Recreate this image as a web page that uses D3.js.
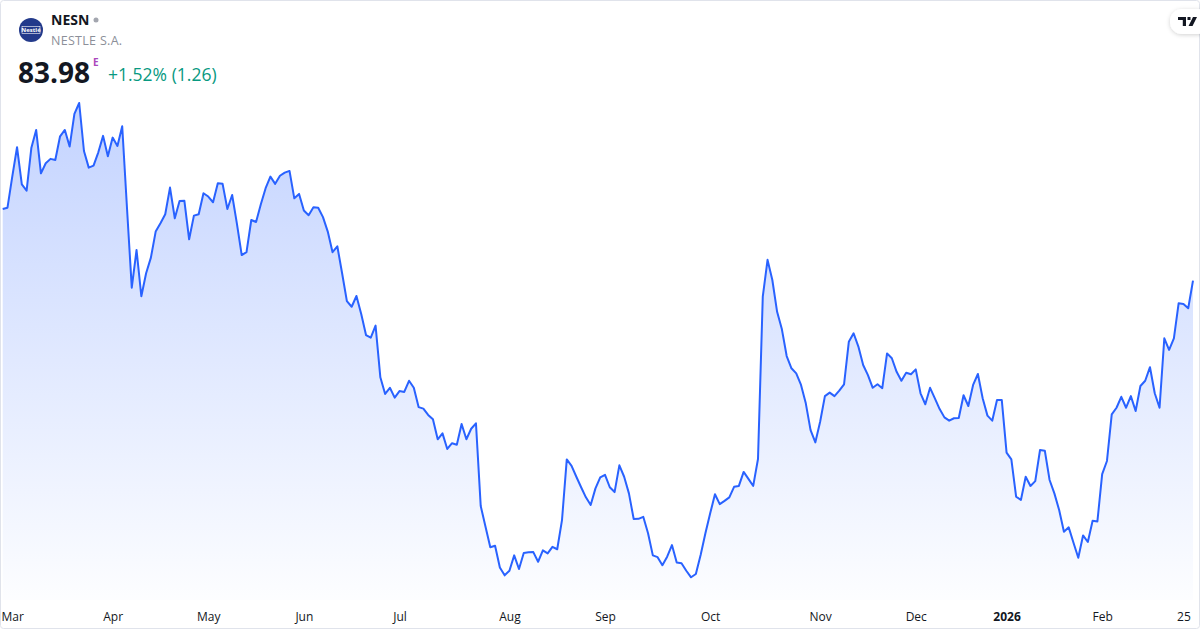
<!DOCTYPE html>
<html>
<head>
<meta charset="utf-8">
<script src="https://cdn.jsdelivr.net/npm/d3@7"></script>
<style>
  html, body { margin: 0; padding: 0; background: #fff; }
  svg { display: block; font-family: "Open Sans", Roboto, sans-serif; }
</style>
</head>
<body>
<div id="chart"></div>
<script>
// NESN daily close, 27 Feb 2025 .. 27 Feb 2026
const closes = [
  87.25, 87.31, 88.73, 90.07, 88.38, 88.09, 90.05, 90.86, 88.88, 89.34,
  89.54, 89.49, 90.57, 90.86, 90.10, 91.59, 92.09, 89.90, 89.14, 89.23,
  89.84, 90.59, 89.66, 90.51, 90.13, 91.03, 87.30, 83.66, 85.38, 83.27,
  84.32, 85.03, 86.22, 86.60, 87.01, 88.23, 86.83, 87.62, 87.63, 85.87,
  86.95, 87.01, 87.97, 87.82, 87.56, 88.43, 88.40, 87.25, 87.89, 86.57,
  85.15, 85.28, 86.75, 86.66, 87.47, 88.20, 88.73, 88.40, 88.77, 88.91,
  88.99, 87.74, 87.94, 87.18, 86.97, 87.33, 87.31, 86.88, 86.22, 85.28,
  85.55, 84.32, 83.05, 82.79, 83.28, 82.46, 81.50, 81.38, 81.93, 79.57,
  78.81, 79.09, 78.64, 78.94, 78.90, 79.41, 79.09, 78.21, 78.14, 77.85,
  77.65, 76.74, 77.01, 76.30, 76.56, 76.49, 77.44, 76.74, 77.22, 77.47,
  73.69, 72.75, 71.81, 71.88, 70.89, 70.53, 70.74, 71.44, 70.82, 71.55,
  71.58, 71.59, 71.15, 71.67, 71.53, 71.83, 71.72, 73.05, 75.82, 75.53,
  75.03, 74.55, 74.09, 73.74, 74.50, 75.00, 75.12, 74.55, 74.33, 75.55,
  75.03, 74.27, 73.10, 73.11, 73.20, 72.45, 71.44, 71.36, 70.99, 71.38,
  71.91, 71.12, 71.08, 70.74, 70.44, 70.59, 71.46, 72.45, 73.36, 74.23,
  73.78, 73.93, 74.09, 74.57, 74.61, 75.25, 74.93, 74.61, 75.84, 83.25,
  84.93, 84.01, 82.56, 81.76, 80.54, 79.98, 79.75, 79.22, 78.38, 77.16,
  76.60, 77.54, 78.71, 78.87, 78.71, 78.96, 79.25, 81.19, 81.58, 80.97,
  80.13, 79.67, 79.09, 79.25, 79.07, 80.66, 80.44, 79.82, 79.41, 79.78,
  79.71, 79.93, 78.84, 78.34, 79.09, 78.61, 78.12, 77.74, 77.59, 77.70,
  77.71, 78.75, 78.26, 79.22, 79.72, 78.61, 77.82, 77.59, 78.53, 78.53,
  76.13, 75.82, 74.12, 73.97, 75.03, 74.61, 74.83, 76.25, 76.22, 74.88,
  74.27, 73.51, 72.52, 72.72, 72.02, 71.33, 72.35, 72.05, 73.02, 72.99,
  75.15, 75.75, 77.88, 78.18, 78.68, 78.18, 78.71, 78.03, 79.17, 79.41,
  80.03, 78.84, 78.18, 81.35, 80.82, 81.35, 82.95, 82.92, 82.72, 83.98
];

// x-axis ticks: index of the first trading day of each month, and labels
const tickIndex  = [2, 23, 43, 63, 83, 106, 126, 148, 171, 191, 210, 230, 247];
const tickLabels = ["Mar", "Apr", "May", "Jun", "Jul", "Aug", "Sep", "Oct", "Nov", "Dec", "2026", "Feb", "25"];

const symbol = "NESN";
const company = "NESTLE S.A.";
const lastPrice = "83.98";
const change = "+1.52% (1.26)";

const width = 1200, height = 630;

const svg = d3.select("#chart")
  .append("svg")
  .attr("width", width)
  .attr("height", height);

const defs = svg.append("defs");

const grad = defs.append("linearGradient")
  .attr("id", "areaFill")
  .attr("gradientUnits", "userSpaceOnUse")
  .attr("x1", 0).attr("x2", 0)
  .attr("y1", 103).attr("y2", 600);
grad.append("stop").attr("offset", "0%").attr("stop-color", "rgba(41,98,255,0.28)");
grad.append("stop").attr("offset", "100%").attr("stop-color", "rgba(41,98,255,0.01)");

const shadow = defs.append("filter").attr("id", "shadow")
  .attr("x", "-50%").attr("y", "-50%").attr("width", "200%").attr("height", "200%");
shadow.append("feDropShadow")
  .attr("dx", 0).attr("dy", 1).attr("stdDeviation", 2)
  .attr("flood-color", "#000").attr("flood-opacity", 0.18);

// frame
svg.append("rect")
  .attr("x", 0.5).attr("y", 0.5)
  .attr("width", width - 1).attr("height", height - 2)
  .attr("rx", 3)
  .attr("fill", "#fff")
  .attr("stroke", "#e0e3eb");

const x = d3.scaleLinear()
  .domain([0, closes.length - 1])
  .range([2.7, 1193]);

const y = d3.scaleLinear()
  .domain(d3.extent(closes))
  .range([577.3, 103]);

const area = d3.area()
  .x((d, i) => x(i))
  .y0(600)
  .y1(d => y(d));

const line = d3.line()
  .x((d, i) => x(i))
  .y(d => y(d));

svg.append("path")
  .datum(closes)
  .attr("d", area)
  .attr("fill", "url(#areaFill)");

svg.append("path")
  .datum(closes)
  .attr("d", line)
  .attr("fill", "none")
  .attr("stroke", "#2962ff")
  .attr("stroke-width", 2)
  .attr("stroke-linejoin", "round");

// time axis
const xAxis = d3.axisBottom(x)
  .tickValues(tickIndex)
  .tickFormat((d, i) => tickLabels[i])
  .tickSize(0)
  .tickPadding(0);

const gx = svg.append("g")
  .attr("transform", "translate(0,612)")
  .call(xAxis);
gx.select(".domain").remove();
gx.selectAll("text")
  .attr("font-family", "'Open Sans', sans-serif")
  .attr("font-size", 12)
  .attr("fill", "#131722")
  .attr("dy", "0.35em")
  .attr("y", 5)
  .attr("font-weight", (d, i) => tickLabels[i] === "2026" ? 700 : 400);

// header
const logo = svg.append("g").attr("transform", "translate(31,30)");
logo.append("circle").attr("r", 12).attr("fill", "#233a8b");
logo.append("rect")
  .attr("x", -9).attr("y", -3.5).attr("width", 18).attr("height", 7)
  .attr("fill", "none").attr("stroke", "#fff").attr("stroke-width", 0.6);
logo.append("text")
  .attr("text-anchor", "middle").attr("dy", "0.35em")
  .attr("font-size", 6).attr("font-weight", 700)
  .attr("fill", "#fff")
  .text("Nestlé");

svg.append("text")
  .attr("x", 51).attr("y", 25)
  .attr("font-size", 14).attr("font-weight", 700)
  .attr("fill", "#131722")
  .text(symbol);
svg.append("circle")
  .attr("cx", 96).attr("cy", 20).attr("r", 2.5)
  .attr("fill", "#a3a6af");
svg.append("text")
  .attr("x", 51).attr("y", 45)
  .attr("font-size", 12.5)
  .attr("fill", "#8c8f99")
  .attr("letter-spacing", 0.3)
  .text(company);

svg.append("text")
  .attr("x", 18).attr("y", 83)
  .attr("font-size", 28).attr("font-weight", 700)
  .attr("fill", "#131722")
  .text(lastPrice);
svg.append("text")
  .attr("x", 93).attr("y", 66)
  .attr("font-size", 10).attr("font-weight", 700)
  .attr("fill", "#ab47bc")
  .text("E");
svg.append("text")
  .attr("x", 108).attr("y", 81)
  .attr("font-size", 17.5)
  .attr("fill", "#089981")
  .text(change);

// TradingView badge, top right
const badge = svg.append("g").attr("transform", "translate(1170,9)");
badge.append("rect")
  .attr("width", 40).attr("height", 25).attr("rx", 12)
  .attr("fill", "#fff")
  .attr("filter", "url(#shadow)");
badge.append("path")
  .attr("d", "M8,8 h8 v9 h-3.2 v-6 h-4.8 Z M17.5,8 h3 v3 h-3 Z M23,8 h4 l-4.5,9 h-4 Z")
  .attr("fill", "#131722");
</script>
</body>
</html>
